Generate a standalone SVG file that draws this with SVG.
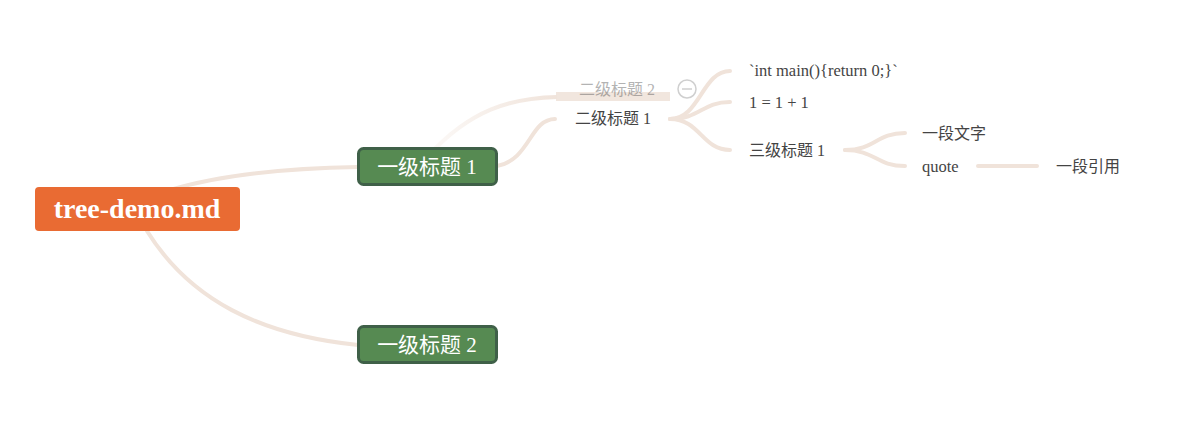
<svg xmlns="http://www.w3.org/2000/svg" width="1187" height="422" viewBox="0 0 1187 422">
<style>
.lk{fill:none;stroke:#F0E3DA;stroke-width:4;stroke-linecap:round}
.t{font-family:"Liberation Serif","Noto Sans CJK SC",serif;fill:#444;font-size:16.5px}
.c{font-size:16px}
.l1{fill:#568A52;stroke:#3F6048;stroke-width:3}
.l1t{font-family:"Liberation Serif","Noto Sans CJK SC",serif;fill:#fff;font-size:21px;text-anchor:middle}
</style>
<defs>
<linearGradient id="fade" x1="428" y1="0" x2="560" y2="0" gradientUnits="userSpaceOnUse">
<stop offset="0" stop-color="#F0E3DA" stop-opacity="0.2"/>
<stop offset="1" stop-color="#F0E3DA" stop-opacity="1"/>
</linearGradient>
</defs>
<rect width="1187" height="422" fill="#fff"/>
<g id="connectors">
<path class="lk" d="M170,190 C230,172 300,168 358,167"/>
<path class="lk" d="M147,231 C190,300 260,335 358,345"/>
<path class="lk" d="M497,166 C530,160 530,119 555,119"/>
<path fill="none" stroke="url(#fade)" stroke-width="4" d="M428,156 C470,110 510,98 557,97"/>
<rect x="556" y="92" width="114" height="9" fill="#F0E3DA" opacity="0.9"/>
<path class="lk" d="M670,119 C700,119 702,71 730,71"/>
<path class="lk" d="M670,119 C700,119 702,102 730,102"/>
<path class="lk" d="M670,119 C700,119 702,150 730,150"/>
<path class="lk" d="M845,150 C875,150 876,133 905,133"/>
<path class="lk" d="M845,150 C875,150 876,166 905,166"/>
<path class="lk" d="M978,166 L1037,166"/>
</g>
<g id="root">
<rect x="35" y="187" width="205" height="44" rx="4" fill="#E96B33"/>
<text x="137" y="218" font-family="Liberation Serif,serif" font-weight="bold" font-size="28" fill="#fff" text-anchor="middle">tree-demo.md</text>
</g>
<g id="h1-1">
<rect class="l1" x="358.5" y="148.5" width="138" height="36" rx="5"/>
<text class="l1t" x="427" y="174">一级标题 1</text>
</g>
<g id="h1-2">
<rect class="l1" x="358.5" y="326.5" width="138" height="36" rx="5"/>
<text class="l1t" x="427" y="352">一级标题 2</text>
</g>
<g id="h2-2" opacity="0.4">
<text class="t c" x="579" y="95">二级标题 2</text>
<circle cx="687" cy="89" r="9" fill="#fff" stroke="#888" stroke-width="1.5"/>
<line x1="682" y1="89" x2="692" y2="89" stroke="#888" stroke-width="1.5"/>
</g>
<g id="h2-1"><text class="t c" x="575" y="124">二级标题 1</text></g>
<g id="code"><text class="t" x="749" y="76">`int main(){return 0;}`</text></g>
<g id="math"><text class="t" x="749" y="108">1 = 1 + 1</text></g>
<g id="h3-1"><text class="t c" x="749" y="156">三级标题 1</text></g>
<g id="para"><text class="t c" x="922" y="139">一段文字</text></g>
<g id="quote"><text class="t" x="922" y="172">quote</text></g>
<g id="quote-text"><text class="t c" x="1056" y="172">一段引用</text></g>
</svg>
